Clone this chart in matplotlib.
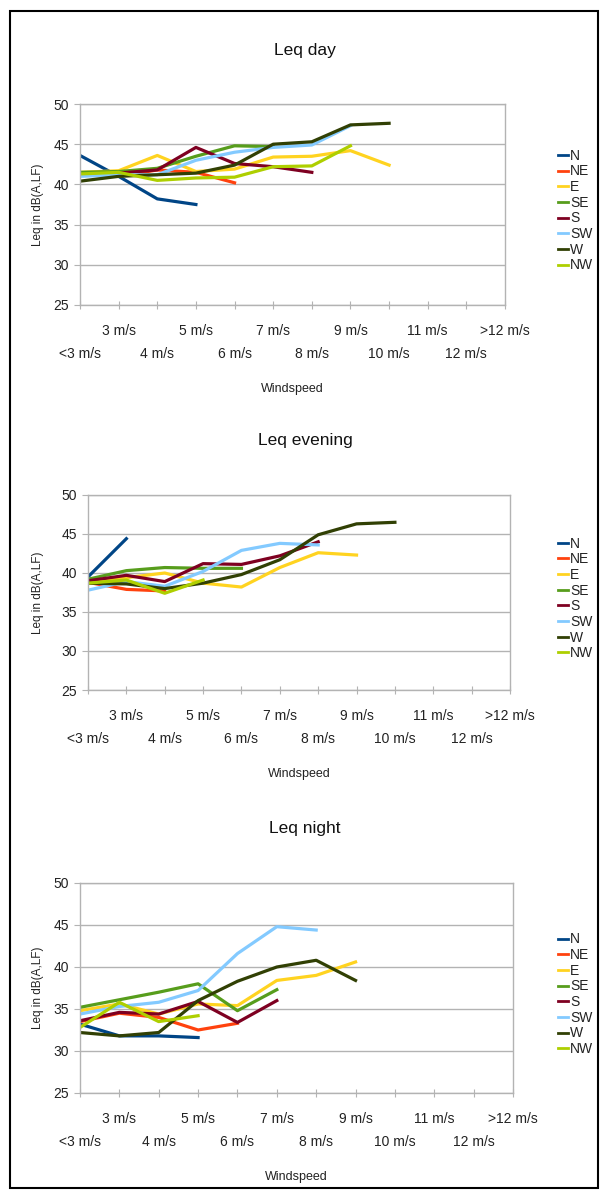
import matplotlib
matplotlib.use("Agg")
import matplotlib.pyplot as plt
from matplotlib.patches import Rectangle

plt.rcParams["font.family"] = ["Liberation Sans", "DejaVu Sans"]

W_PX, H_PX = 605, 1196
DPI = 100

categories = ["<3 m/s", "3 m/s", "4 m/s", "5 m/s", "6 m/s", "7 m/s", "8 m/s",
              "9 m/s", "10 m/s", "11 m/s", "12 m/s", ">12 m/s"]
directions = ["N", "NE", "E", "SE", "S", "SW", "W", "NW"]
colors = ["#004586", "#ff420e", "#ffd320", "#579d1c",
          "#7e0021", "#83caff", "#314004", "#aecf00"]

# Leq values per wind direction, starting at "<3 m/s"
day_N = [43.6, 41.0, 38.2, 37.5]
day_NE = [41.2, 41.0, 41.8, 41.5, 40.2]
day_E = [41.5, 41.7, 43.6, 41.6, 41.9, 43.4, 43.5, 44.2, 42.4]
day_SE = [41.5, 41.6, 42.0, 43.5, 44.8, 44.7]
day_S = [41.2, 41.4, 41.8, 44.6, 42.6, 42.2, 41.5]
day_SW = [41.0, 41.2, 41.2, 43.0, 44.0, 44.6, 44.9, 47.3]
day_W = [40.4, 41.0, 41.2, 41.4, 42.4, 45.0, 45.3, 47.4, 47.6]
day_NW = [41.3, 41.5, 40.5, 40.8, 40.9, 42.2, 42.3, 44.8]

eve_N = [39.5, 44.4]
eve_NE = [38.8, 37.9, 37.7]
eve_E = [39.0, 39.4, 40.0, 38.7, 38.2, 40.7, 42.6, 42.3]
eve_SE = [39.2, 40.3, 40.7, 40.6, 40.6]
eve_S = [39.0, 39.7, 38.9, 41.2, 41.1, 42.2, 44.0]
eve_SW = [37.8, 38.9, 38.3, 40.2, 42.9, 43.8, 43.6]
eve_W = [38.7, 38.6, 38.0, 38.7, 39.8, 41.7, 44.9, 46.3, 46.5]
eve_NW = [38.7, 39.1, 37.4, 39.1]

night_N = [33.2, 31.8, 31.8, 31.6]
night_NE = [33.5, 34.5, 34.0, 32.5, 33.3]
night_E = [34.8, 35.6, 34.4, 35.6, 35.4, 38.4, 39.0, 40.6]
night_SE = [35.2, 36.1, 37.0, 38.0, 34.8, 37.3]
night_S = [33.6, 34.6, 34.4, 35.9, 33.4, 36.0]
night_SW = [34.4, 35.3, 35.8, 37.2, 41.6, 44.8, 44.4]
night_W = [32.2, 31.8, 32.2, 36.0, 38.3, 40.0, 40.8, 38.4]
night_NW = [32.8, 35.8, 33.5, 34.2]

panels = [
    ("Leq day", [day_N, day_NE, day_E, day_SE, day_S, day_SW, day_W, day_NW],
     (80, 505, 104, 305)),
    ("Leq evening", [eve_N, eve_NE, eve_E, eve_SE, eve_S, eve_SW, eve_W, eve_NW],
     (88, 510, 495, 690)),
    ("Leq night", [night_N, night_NE, night_E, night_SE, night_S, night_SW, night_W, night_NW],
     (80, 513, 883, 1093)),
]

GRID = "#b3b3b3"
TXT = "#222222"

fig = plt.figure(figsize=(W_PX / DPI, H_PX / DPI), dpi=DPI)
fig.patch.set_facecolor("white")
fig.add_artist(Rectangle((10 / W_PX, 1 - 1188 / H_PX), 588 / W_PX, 1177 / H_PX,
                         transform=fig.transFigure, fill=False, edgecolor="black", lw=1.5))


def draw_panel(title, series, box):
    left, right, top, bottom = box
    h = bottom - top
    ax = fig.add_axes([left / W_PX, 1 - bottom / H_PX, (right - left) / W_PX, h / H_PX])
    for name, vals, col in zip(directions, series, colors):
        ax.plot(range(len(vals)), vals, color=col, lw=2.3, label=name, solid_joinstyle="round")

    ax.set_xlim(0, len(categories) - 1)
    ax.set_ylim(25, 50)
    ax.set_yticks(range(25, 51, 5))
    ax.grid(axis="y", color=GRID, lw=1)
    ax.set_axisbelow(True)
    for sp in ax.spines.values():
        sp.set_color(GRID)
        sp.set_linewidth(1)

    ax.set_xticks(range(len(categories)))
    ax.set_xticklabels([])
    ax.tick_params(axis="x", direction="inout", length=6, color=GRID)
    ax.tick_params(axis="y", direction="out", length=4, color=GRID, pad=4,
                   labelsize=10, labelcolor=TXT)

    # staggered category labels: odd ones on the upper row, even ones below
    xt = ax.get_xaxis_transform()
    for i, c in enumerate(categories):
        off = 26 if i % 2 else 49
        ax.text(i, -off / h, c, transform=xt, ha="center", va="center",
                fontsize=10, color=TXT, clip_on=False)

    ax.text(0.5, -84 / h, "Windspeed", transform=ax.transAxes, ha="center", va="center",
            fontsize=9, color=TXT)
    ax.text((38 - left) / (right - left), 0.5, "Leq in dB(A,LF)", transform=ax.transAxes,
            rotation=90, ha="center", va="center", fontsize=8.5, color=TXT)
    fig.text(305 / W_PX, 1 - (top - 54) / H_PX, title, ha="center", va="center",
             fontsize=12.5, color="#111111")

    leg = ax.legend(loc="center left", bbox_to_anchor=((552 - left) / (right - left), 0.47),
                    frameon=False, fontsize=10, handlelength=0.75, handletextpad=0.15,
                    labelspacing=0.12, borderaxespad=0)
    for line in leg.get_lines():
        line.set_linewidth(2)
    for t in leg.get_texts():
        t.set_color(TXT)
    return ax


for title, series, box in panels:
    draw_panel(title, series, box)

fig.savefig("out.png", dpi=DPI)
